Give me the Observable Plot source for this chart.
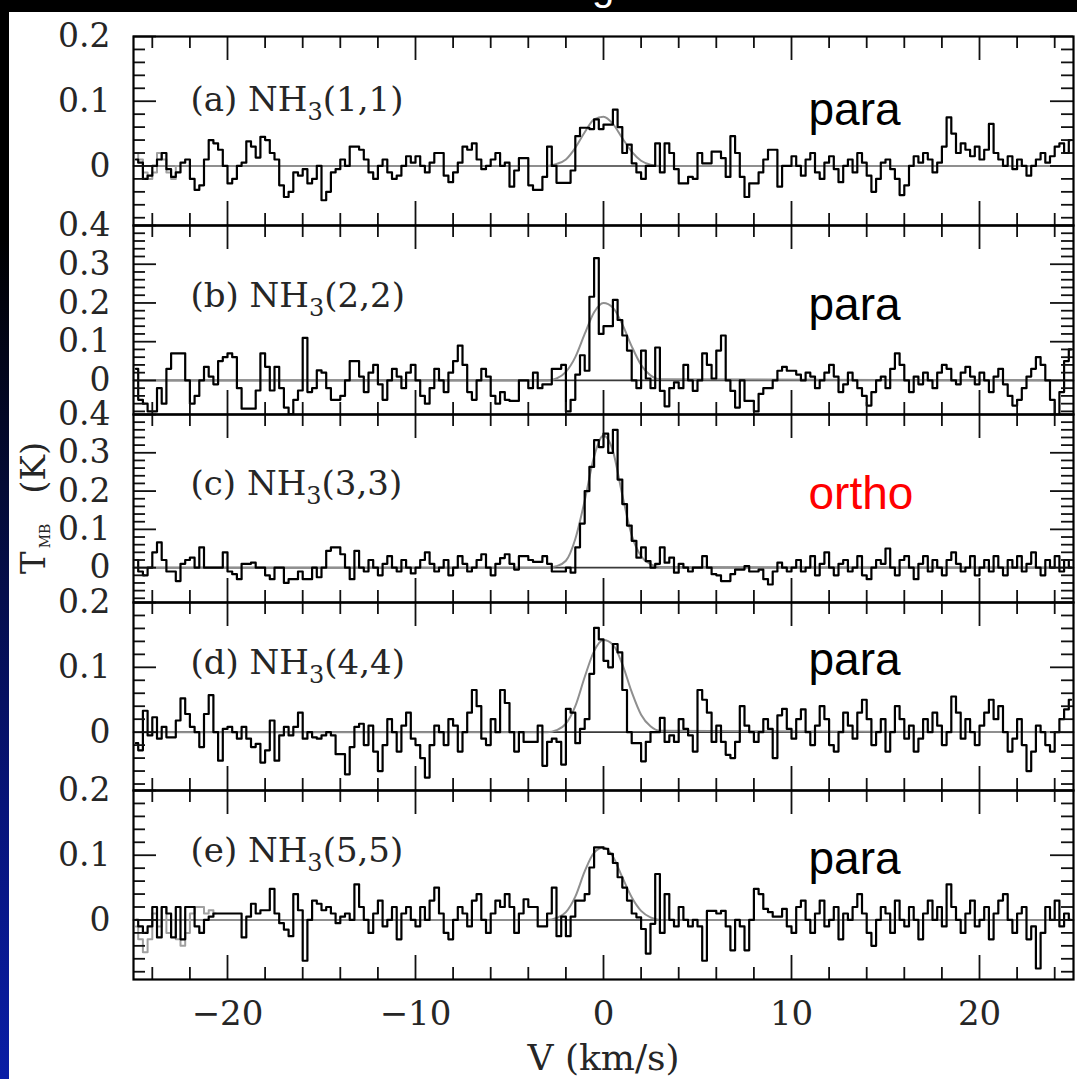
<!DOCTYPE html>
<html><head><meta charset="utf-8">
<script src="https://cdn.jsdelivr.net/npm/d3@7"></script>
<script src="https://cdn.jsdelivr.net/npm/@observablehq/plot@0.6"></script>
<style>
html,body{margin:0;padding:0;background:#fff;}
#root{position:relative;width:1077px;height:1079px;overflow:hidden;background:#fff;}
#topbar{position:absolute;left:0;top:0;width:1077px;height:12px;background:#000;}
#topglyph{position:absolute;left:592px;top:-34px;font:40px "Liberation Sans";color:#fff;line-height:40px;}
#leftbar{position:absolute;left:0;top:0;width:9px;height:1079px;background:linear-gradient(to bottom,#000 0%,#000 22%,#040b35 45%,#07147a 75%,#0a1ea6 100%);}
.panel{position:absolute;left:0;}
#ylabel{position:absolute;left:0;top:0;}
</style></head><body>
<div id="root">
  <div id="topbar"></div>
  <div id="topglyph">g</div>
  <div id="leftbar"></div>
</div>
<script>
// ---------- data ----------
const channelStart = -25;   // km/s, left edge of first channel
const channelWidth = 0.25;  // km/s
const panelNames = ["(a) NH3(1,1)", "(b) NH3(2,2)", "(c) NH3(3,3)", "(d) NH3(4,4)", "(e) NH3(5,5)"];
const spinLabels = ["para", "para", "ortho", "para", "para"];
const yTickLabels = [[0, 0.1, 0.2], [0, 0.1, 0.2, 0.3, 0.4], [0, 0.1, 0.2, 0.3, 0.4], [0, 0.1, 0.2], [0, 0.1, 0.2]];
const xTickLabels = [-20, -10, 0, 10, 20];
const xLabel = "V (km/s)";

const spectrumA = [
  0.01, 0.005, -0.02, -0.015, 0.0, 0.01, 0.02, -0.005, -0.017, -0.01, 0.005, 0.01, -0.02, -0.037, -0.03, 0.01, 0.04, 0.035, 0.025, 0.0,
  -0.027, -0.02, 0.0, 0.005, 0.038, 0.03, 0.013, 0.045, 0.04, 0.02, 0.01, -0.03, -0.048, -0.04, -0.01, -0.015, -0.005, -0.027, -0.02, 0.0,
  -0.053, -0.04, -0.01, -0.005, 0.01, 0.0, 0.03, 0.03, 0.025, 0.01, -0.01, -0.02, 0.0, 0.01, -0.01, -0.02, -0.015, 0.0, 0.015, 0.005,
  0.015, 0.0, -0.01, 0.005, 0.02, 0.02, -0.015, -0.025, -0.01, 0.005, 0.03, 0.025, 0.035, 0.01, -0.005, 0.0, 0.01, 0.02, 0.0, 0.005,
  -0.032, -0.007, 0.012, 0.012, -0.03, -0.037, -0.037, -0.017, 0.03, 0.0, -0.026, -0.026, -0.026, -0.007, 0.046, 0.059, 0.059, 0.057, 0.072, 0.057,
  0.064, 0.064, 0.087, 0.06, 0.02, 0.033, 0.004, -0.01, -0.02, 0.0, 0.0, 0.035, -0.01, 0.035, 0.02, -0.005, -0.027, -0.027, -0.017, -0.02,
  0.02, 0.004, 0.004, 0.022, 0.022, 0.012, -0.017, 0.046, 0.02, -0.017, -0.048, -0.027, -0.027, -0.01, 0.01, 0.025, 0.025, -0.032, 0.0, 0.0,
  0.015, 0.0, -0.015, 0.01, 0.02, -0.01, -0.02, 0.005, 0.015, -0.005, -0.025, 0.0, 0.01, -0.01, 0.02, 0.005, -0.015, -0.04, -0.02, 0.005,
  0.01, -0.005, -0.02, -0.045, -0.03, 0.0, 0.015, 0.005, 0.02, 0.01, -0.01, 0.005, 0.03, 0.075, 0.05, 0.02, 0.035, 0.025, 0.015, 0.03,
  0.01, 0.025, 0.065, 0.02, 0.01, 0.0, 0.015, -0.005, 0.01, 0.0, -0.015, 0.0, 0.01, 0.02, 0.005, 0.015, 0.03, 0.035, 0.02, 0.04
];
const spectrumB = [
  0.03, -0.05, -0.06, -0.08, -0.08, -0.02, -0.06, 0.03, 0.07, 0.07, 0.07, 0.0, -0.06, -0.04, 0.0, 0.035, 0.01, -0.01, 0.05, 0.06,
  0.07, 0.06, -0.02, -0.073, -0.073, -0.073, -0.026, 0.07, 0.035, -0.026, 0.035, -0.02, -0.07, -0.087, -0.05, -0.026, 0.11, -0.03, -0.02, 0.026,
  0.02, -0.02, -0.05, -0.05, -0.04, 0.0, 0.05, 0.05, 0.01, -0.03, 0.02, 0.04, -0.01, -0.05, 0.0, 0.03, 0.01, -0.02, 0.02, 0.04,
  0.0, -0.04, -0.06, -0.02, 0.03, 0.0, -0.03, 0.02, 0.05, 0.09, 0.04, -0.03, -0.05, 0.0, 0.03, 0.01, -0.04, -0.06, -0.03, -0.05,
  -0.053, -0.053, 0.0, 0.0, -0.02, 0.02, -0.02, -0.01, -0.01, 0.03, 0.03, 0.04, -0.08, -0.05, 0.015, 0.065, 0.025, 0.216, 0.316, 0.12,
  0.14, 0.14, 0.208, 0.156, 0.116, 0.077, 0.0, -0.02, 0.077, 0.005, -0.02, 0.085, -0.027, -0.067, -0.02, -0.005, -0.02, 0.04, 0.0, -0.027,
  0.0, 0.07, 0.04, 0.005, 0.077, 0.116, 0.0, -0.027, -0.07, 0.0, -0.053, -0.053, -0.08, -0.035, -0.02, -0.02, 0.0, 0.025, 0.035, 0.025,
  0.025, 0.015, 0.0, 0.02, 0.01, -0.02, 0.0, 0.02, 0.04, 0.01, -0.03, -0.01, 0.02, 0.0, -0.02, -0.04, -0.065, -0.03, 0.0, 0.01,
  -0.02, 0.03, 0.07, 0.04, 0.0, -0.03, 0.01, -0.01, 0.02, 0.0, -0.02, 0.02, 0.04, 0.03, 0.0, -0.01, 0.02, 0.035, 0.01, -0.01,
  0.02, 0.0, -0.03, 0.01, 0.03, -0.01, -0.04, -0.065, -0.05, -0.02, 0.01, 0.03, 0.06, 0.04, 0.0, -0.05, -0.09, -0.03, 0.05, 0.08
];
const spectrumC = [
  0.02, -0.01, -0.02, 0.0, 0.04, 0.066, 0.02, -0.01, -0.01, -0.035, 0.01, 0.02, 0.026, 0.0, 0.053, 0.0, 0.0, 0.0, 0.0, 0.04,
  -0.01, -0.017, -0.03, 0.01, 0.01, 0.013, 0.0, 0.0, -0.02, -0.03, 0.0, 0.0, -0.04, -0.03, -0.03, -0.01, -0.03, -0.03, 0.0, -0.025,
  0.0, 0.044, 0.053, 0.053, 0.035, 0.0, -0.03, 0.044, 0.0, -0.01, 0.02, 0.0, -0.02, 0.01, 0.03, 0.0, -0.01, 0.02, 0.0, -0.015,
  0.0, 0.02, 0.04, 0.01, -0.01, 0.0, 0.02, -0.02, 0.0, 0.03, 0.01, -0.01, 0.0, 0.02, 0.035, 0.0, -0.02, 0.01, 0.025, 0.035,
  0.01, -0.005, 0.03, 0.03, 0.02, 0.015, 0.015, 0.03, 0.01, -0.01, -0.01, -0.01, 0.0, -0.013, 0.053, 0.115, 0.2, 0.263, 0.333, 0.315,
  0.35, 0.30, 0.36, 0.23, 0.166, 0.11, 0.07, 0.026, 0.053, 0.017, 0.0, 0.01, 0.053, 0.013, 0.026, -0.013, 0.01, 0.0, -0.01, 0.0,
  0.0, 0.03, 0.0, -0.017, -0.02, -0.035, -0.035, -0.017, -0.005, -0.005, 0.004, -0.01, -0.01, -0.005, -0.03, -0.044, -0.01, 0.013, 0.0, -0.01,
  0.0, 0.02, -0.01, 0.0, 0.03, -0.02, 0.01, 0.04, 0.0, -0.02, 0.01, 0.02, -0.01, 0.0, 0.03, -0.02, -0.03, 0.0, 0.02, 0.01,
  0.05, 0.0, -0.02, 0.02, 0.03, 0.0, -0.03, 0.01, 0.03, -0.01, 0.02, 0.0, -0.02, 0.02, 0.04, 0.01, -0.01, 0.0, 0.03, -0.02,
  0.0, 0.02, -0.01, 0.03, 0.0, -0.02, 0.02, 0.0, 0.03, -0.01, 0.01, 0.04, 0.0, -0.02, 0.02, 0.0, 0.03, -0.01, 0.02, 0.0
];
const spectrumD = [
  -0.017, -0.028, 0.033, -0.005, 0.023, -0.01, 0.008, -0.008, -0.008, 0.018, 0.052, 0.028, 0.008, 0.0, -0.023, 0.028, 0.057, 0.0, -0.044, 0.005,
  0.008, 0.0, -0.01, 0.008, -0.01, -0.023, -0.018, -0.047, -0.028, 0.018, -0.044, -0.005, 0.008, -0.005, 0.008, 0.03, -0.01, 0.0, -0.008, -0.01,
  -0.005, 0.0, -0.005, -0.034, -0.034, -0.065, -0.023, 0.008, 0.013, -0.02, 0.01, -0.03, -0.06, -0.02, 0.02, 0.0, -0.03, 0.01, 0.03, -0.01,
  -0.02, -0.04, -0.07, -0.02, 0.01, 0.0, -0.02, 0.02, 0.01, -0.03, 0.0, 0.03, 0.065, 0.04, -0.01, -0.02, 0.02, 0.0, 0.065, 0.045,
  0.0, -0.03, 0.0, -0.015, -0.015, -0.015, 0.01, -0.052, -0.015, -0.01, -0.015, -0.05, 0.036, 0.03, -0.017, 0.005, 0.02, 0.09, 0.161, 0.143,
  0.11, 0.10, 0.136, 0.123, 0.065, 0.0, -0.017, -0.017, -0.045, -0.015, 0.0, 0.0, 0.022, -0.015, -0.005, -0.015, 0.02, 0.005, -0.005, -0.03,
  0.065, 0.05, 0.03, -0.015, 0.01, -0.015, -0.035, -0.04, -0.015, 0.04, 0.01, 0.0, -0.015, 0.0, 0.02, 0.005, -0.04, 0.026, 0.036, 0.005,
  -0.01, 0.02, 0.035, 0.0, -0.02, 0.01, 0.04, 0.02, -0.02, -0.03, 0.0, 0.03, 0.01, -0.01, 0.03, 0.05, 0.02, -0.02, 0.0, 0.02,
  -0.03, 0.0, 0.04, 0.02, -0.01, 0.01, -0.03, -0.01, 0.02, 0.0, 0.03, 0.01, -0.02, 0.0, 0.055, 0.03, -0.01, 0.02, 0.0, -0.02,
  0.01, 0.03, 0.05, 0.02, 0.04, 0.0, -0.03, -0.01, 0.02, -0.02, -0.06, -0.03, 0.01, 0.0, -0.02, -0.03, 0.0, 0.02, 0.035, 0.05
];
const spectrumE = [
  0.0, -0.01, -0.02, -0.01, 0.02, -0.027, 0.02, 0.01, -0.027, 0.02, -0.03, 0.02, 0.02, -0.01, -0.02, 0.0, 0.005, 0.01, 0.01, 0.01,
  0.01, 0.01, 0.01, -0.027, 0.005, 0.025, 0.01, 0.015, 0.015, 0.048, 0.01, -0.005, -0.015, -0.025, 0.04, 0.015, -0.063, 0.0, 0.03, 0.025,
  0.015, 0.02, 0.01, -0.005, 0.005, 0.01, 0.0, 0.055, 0.02, 0.0, -0.02, 0.01, 0.03, -0.01, 0.0, 0.02, -0.03, 0.01, 0.02, 0.0,
  -0.01, 0.02, 0.0, 0.03, 0.05, 0.01, -0.02, -0.03, 0.0, 0.02, 0.01, -0.01, 0.03, 0.04, 0.0, -0.02, 0.01, 0.03, 0.02, 0.04,
  0.02, -0.02, 0.01, 0.032, 0.02, 0.02, -0.01, -0.01, 0.01, 0.05, -0.025, 0.005, -0.025, 0.005, 0.03, 0.03, 0.04, 0.081, 0.112, 0.112,
  0.11, 0.102, 0.088, 0.066, 0.05, 0.03, 0.01, 0.004, -0.014, -0.052, -0.006, 0.071, -0.02, 0.04, 0.0, -0.01, 0.02, 0.0, -0.01, 0.0,
  -0.01, -0.063, 0.014, 0.014, 0.01, 0.014, -0.01, -0.047, 0.0, -0.01, -0.047, 0.0, 0.048, 0.04, 0.017, 0.012, 0.005, 0.005, 0.017, -0.01,
  -0.02, 0.02, 0.03, 0.0, -0.02, 0.01, 0.03, -0.01, 0.0, 0.02, -0.03, 0.01, 0.0, 0.02, 0.04, 0.01, -0.02, -0.04, 0.0, 0.02,
  0.01, -0.02, 0.03, 0.0, -0.01, 0.02, 0.0, -0.03, 0.01, 0.03, 0.0, 0.02, -0.01, 0.055, 0.02, 0.0, -0.02, 0.01, 0.03, -0.01,
  0.0, 0.02, -0.03, 0.01, 0.03, 0.04, 0.0, -0.02, 0.01, 0.02, -0.03, -0.01, -0.075, -0.02, 0.02, 0.0, 0.03, -0.01, 0.01, 0.0
];
// faint grey traces at the left end of panels (a) and (e)
const greySpectrumA = [0.02, 0.01, -0.01, -0.02, -0.01, 0.02, 0.01, -0.01, -0.02, 0.0];
const greySpectrumE = [-0.01, -0.03, -0.05, -0.03, 0.01, -0.01, 0.02, -0.02, 0.0, -0.03, -0.04, -0.02, 0.01, 0.02, 0.02, 0.01, 0.015, 0.01];

// Gaussian fits (grey), read at these velocities
const fitVelocity = [-25, -3, -2.5, -2, -1.5, -1, -0.5, 0, 0.5, 1, 1.5, 2, 2.5, 3, 25];
const fitA = [0, 0, 0.003, 0.01, 0.028, 0.052, 0.072, 0.076, 0.065, 0.043, 0.022, 0.008, 0.002, 0, 0];
const fitB = [0, 0, 0.005, 0.022, 0.06, 0.12, 0.176, 0.2, 0.188, 0.145, 0.088, 0.04, 0.013, 0.003, 0];
const fitC = [0, 0, 0.004, 0.018, 0.075, 0.175, 0.29, 0.345, 0.305, 0.19, 0.085, 0.03, 0.009, 0.002, 0];
const fitD = [0, 0, 0.003, 0.013, 0.04, 0.085, 0.125, 0.142, 0.135, 0.105, 0.062, 0.027, 0.009, 0.002, 0];
const fitE = [0, 0, 0.003, 0.012, 0.036, 0.075, 0.104, 0.112, 0.098, 0.066, 0.035, 0.014, 0.004, 0, 0];

// ---------- layout ----------
const W = 1077;
const frameLeft = 133, frameRight = 1073;
const panelEdges = [36, 225, 414, 602, 790, 979];
const yDomains = [[-0.092, 0.2], [-0.088, 0.4], [-0.091, 0.4], [-0.09, 0.2], [-0.092, 0.2]];
const nameDy = [64, 71, 70, 61, 61];
const spinDy = [74, 80, 80, 58, 69];
const spinColors = ["#000", "#000", "#ff0000", "#000", "#000"];
const serif = "DejaVu Serif";
const ink = "#262626";

const spectra = [spectrumA, spectrumB, spectrumC, spectrumD, spectrumE];
const greys = [greySpectrumA, null, null, null, greySpectrumE];
const fits = [fitA, fitB, fitC, fitD, fitE];

const xMinor = d3.range(-24, 25, 2).filter(v => v % 10 !== 0);
const xMajor = [-20, -10, 0, 10, 20];

const root = document.getElementById("root");
const toRows = arr => arr.map((t, k) => ({v: channelStart + channelWidth * (k + 0.5), t}));

for (let i = 0; i < 5; i++) {
  const top = panelEdges[i], h = panelEdges[i + 1] - top;
  const mt = 30, mb = i === 4 ? 110 : 30;
  const innerW = frameRight - frameLeft;
  const [y0, y1] = yDomains[i];
  const yAll = d3.range(Math.ceil(y0 / 0.02), Math.floor(y1 / 0.02 + 1e-9) + 1).map(k => +(k * 0.02).toFixed(2));
  const yMajor = yAll.filter(v => Math.abs(v * 10 - Math.round(v * 10)) < 1e-9);
  const yMinor = yAll.filter(v => !yMajor.includes(v));
  const tickStyle = {stroke: "#111", strokeWidth: 1.8};
  const marks = [
    Plot.ruleY([0], {stroke: "#3a3a3a", strokeWidth: 1.6}),
    Plot.line(fitVelocity.map((v, k) => ({v, t: fits[i][k]})), {x: "v", y: "t", stroke: "#8f8f8f", strokeWidth: 2, curve: "monotone-x"})
  ];
  if (greys[i]) marks.push(Plot.line(toRows(greys[i]), {x: "v", y: "t", curve: "step", stroke: "#a0a0a0", strokeWidth: 2}));
  marks.push(
    Plot.line(toRows(spectra[i]), {x: "v", y: "t", curve: "step", stroke: "#000", strokeWidth: 2.2, clip: true}),
    // inward ticks on all four sides
    Plot.ruleX(xMinor, {...tickStyle, insetBottom: h - 12}),
    Plot.ruleX(xMinor, {...tickStyle, insetTop: h - 12}),
    Plot.ruleX(xMajor, {...tickStyle, insetBottom: h - 24}),
    Plot.ruleX(xMajor, {...tickStyle, insetTop: h - 24}),
    Plot.ruleY(yMinor, {...tickStyle, insetRight: innerW - 12}),
    Plot.ruleY(yMinor, {...tickStyle, insetLeft: innerW - 12}),
    Plot.ruleY(yMajor, {...tickStyle, insetRight: innerW - 23}),
    Plot.ruleY(yMajor, {...tickStyle, insetLeft: innerW - 23}),
    Plot.frame({stroke: "#000", strokeWidth: 2.2}),
    Plot.axisY(yTickLabels[i], {tickSize: 0, tickPadding: 23, fontSize: 33, fontFamily: serif, fill: ink, tickFormat: d => String(d), label: null}),
    Plot.text([panelNames[i]], {text: d => d, frameAnchor: "top-left", dx: 57, dy: nameDy[i], textAnchor: "start", lineAnchor: "middle", fontSize: 34, fontFamily: serif, fill: ink}),
    Plot.text([spinLabels[i]], {text: d => d, frameAnchor: "top-left", dx: 675, dy: spinDy[i], textAnchor: "start", lineAnchor: "middle", fontSize: 46, fontFamily: "Liberation Sans", fill: spinColors[i]})
  );
  if (i === 4) {
    marks.push(
      Plot.axisX(xTickLabels, {tickSize: 0, tickPadding: 21, fontSize: 34, fontFamily: serif, fill: ink, tickFormat: d => d < 0 ? "\u2212" + (-d) : String(d), label: null}),
      Plot.text([xLabel], {text: d => d, frameAnchor: "bottom", dy: 79, lineAnchor: "middle", fontSize: 36, fontFamily: serif, fill: ink})
    );
  }
  const chart = Plot.plot({
    width: W, height: h + mt + mb,
    marginLeft: frameLeft, marginRight: W - frameRight, marginTop: mt, marginBottom: mb,
    x: {domain: [-25, 25], axis: i === 4 ? undefined : null, label: null},
    y: {domain: yDomains[i], label: null},
    style: {background: "transparent", overflow: "visible"},
    marks
  });
  chart.classList.add("panel");
  chart.style.top = (top - mt) + "px";
  // subscript "3" in NH3
  d3.select(chart).selectAll("text").each(function () {
    const s = this.textContent;
    const m = /^(\(\w\) NH)3(\(\d,\d\))$/.exec(s);
    if (!m) return;
    const sel = d3.select(this);
    sel.text(null);
    sel.append("tspan").text(m[1]);
    sel.append("tspan").attr("font-size", 24).attr("dy", 9).text("3");
    sel.append("tspan").attr("dy", -9).text(m[2]);
  });
  root.appendChild(chart);
}

// y-axis title, rotated
const ysvg = d3.create("svg").attr("id", "ylabel").attr("width", 80).attr("height", 1079)
  .style("position", "absolute").style("left", "0px").style("top", "0px");
const yt = ysvg.append("text").attr("transform", "translate(45,574) rotate(-90)")
  .attr("font-family", serif).attr("font-size", 34).attr("fill", ink);
yt.append("tspan").text("T");
yt.append("tspan").attr("font-size", 14).attr("dy", 5).attr("dx", 3).text("MB");
yt.append("tspan").attr("dy", -5).attr("dx", 30).text("(K)");
root.appendChild(ysvg.node());
</script>
</body></html>
